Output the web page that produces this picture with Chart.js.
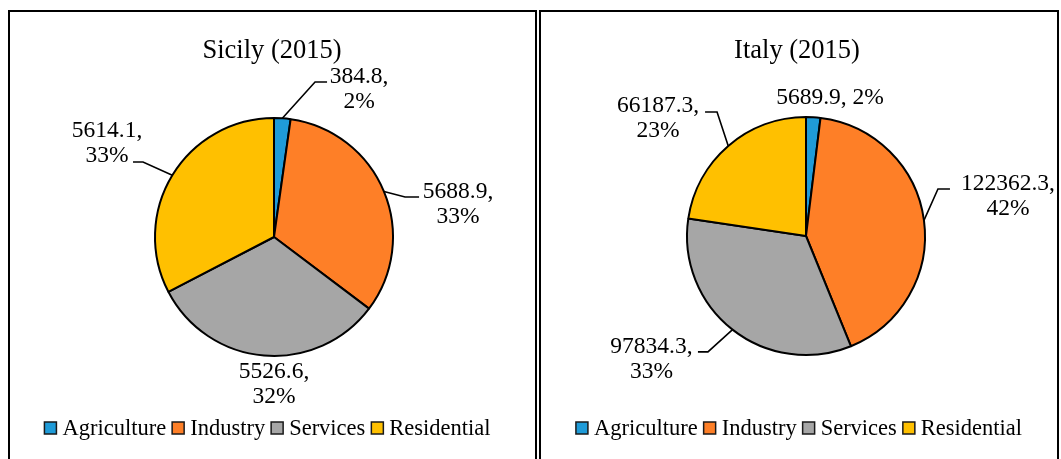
<!DOCTYPE html>
<html><head><meta charset="utf-8">
<script src="https://cdn.jsdelivr.net/npm/chart.js@4.4.0/dist/chart.umd.min.js"></script>
<style>
html,body{margin:0;padding:0;background:#fff;overflow:hidden;width:1061px;height:459px;}
canvas{position:absolute;left:0;top:0;}
.panel{position:absolute;top:10px;height:470px;border:2px solid #000;box-sizing:border-box;pointer-events:none;z-index:5;}
</style></head><body>
<div class="panel" style="left:8px;width:529px"></div>
<div class="panel" style="left:539px;width:520px"></div>
<canvas id="c1" width="1061" height="459"></canvas>
<canvas id="c2" width="1061" height="459"></canvas>
<script>
// ---- data ----
const categories = ['Agriculture', 'Industry', 'Services', 'Residential'];
const sicilyValues = [384.8, 5688.9, 5526.6, 5614.1];
const italyValues = [5689.9, 122362.3, 97834.3, 66187.3];
const chartTitles = ['Sicily (2015)', 'Italy (2015)'];

// ---- style ----
const sliceColors = ['#1F9BD8', '#FE7F27', '#A6A6A6', '#FFC000'];
const FONT = '"Liberation Serif", "Times New Roman", serif';

// label placement relative to slice mid-point on circumference (annotation layout only)
const sicilyLabelLayout = [
  {dx: 76.7, dy: -35.3, leader: [[-44, -1], [-32, -1]]},
  {dx: 74.1, dy: 6.5, leader: [[-53, -1], [-39, -1]]},
  {dx: 10, dy: 22.4},
  {dx: -65.3, dy: -38.2, leader: [[36, 25], [26, 25]]}
];
const italyLabelLayout = [
  {dx: 16.7, dy: -13.2, oneLine: true},
  {dx: 84, dy: -30.3, leader: [[-70, -1], [-58, -1]]},
  {dx: -81.1, dy: 23.3, leader: [[56.5, -1], [46.5, -1]]},
  {dx: -70.2, dy: -33.9, leader: [[59, 0], [47, 0]]}
];

function makeAnnotator(cfg) {
  return {
    id: 'annotate_' + cfg.key,
    afterDatasetsDraw(chart) {
      const ctx = chart.ctx;
      const meta = chart.getDatasetMeta(0);
      const data = chart.data.datasets[0].data;
      const total = data.reduce((a, b) => a + b, 0);
      ctx.save();
      ctx.fillStyle = '#000';
      ctx.strokeStyle = '#000';
      ctx.textAlign = 'center';
      ctx.textBaseline = 'alphabetic';
      // data labels
      meta.data.forEach((arc, i) => {
        const p = arc.getProps(['x', 'y', 'startAngle', 'endAngle', 'outerRadius'], true);
        const mid = (p.startAngle + p.endAngle) / 2;
        const mx = p.x + Math.cos(mid) * p.outerRadius;
        const my = p.y + Math.sin(mid) * p.outerRadius;
        const L = cfg.labels[i];
        const ax = mx + L.dx, ay = my + L.dy;
        const val = data[i].toFixed(1);
        const pct = Math.round(data[i] / total * 100) + '%';
        const lines = L.oneLine ? [val + ', ' + pct] : [val + ',', pct];
        if (L.leader) {
          ctx.beginPath();
          ctx.lineWidth = 1.6;
          ctx.moveTo(mx, my);
          L.leader.forEach(([x, y]) => ctx.lineTo(ax + x, ay + y));
          ctx.stroke();
        }
        ctx.font = '23.5px ' + FONT;
        lines.forEach((t, k) => ctx.fillText(t, ax, ay + k * 25));
      });
      // title
      ctx.font = '26.5px ' + FONT;
      ctx.fillText(cfg.title, cfg.titleX, 58);
      // legend
      ctx.font = '22.5px ' + FONT;
      const box = 12, gapBT = 6, gapItem = 6;
      const labels = chart.data.labels;
      const widths = labels.map(t => ctx.measureText(t).width);
      const totalW = widths.reduce((a, w) => a + box + gapBT + w, 0) + gapItem * (labels.length - 1);
      let x = cfg.legendX - totalW / 2;
      ctx.textAlign = 'left';
      labels.forEach((t, i) => {
        ctx.fillStyle = sliceColors[i];
        ctx.fillRect(x, 422, box, box);
        ctx.lineWidth = 1.5;
        ctx.strokeStyle = '#1a1a1a';
        ctx.strokeRect(x, 422, box, box);
        ctx.fillStyle = '#000';
        ctx.fillText(t, x + box + gapBT, 435);
        x += box + gapBT + widths[i] + gapItem;
      });
      ctx.restore();
    }
  };
}

function makePie(id, values, cfg, padding) {
  return new Chart(document.getElementById(id), {
    type: 'pie',
    data: {
      labels: categories,
      datasets: [{
        data: values,
        backgroundColor: sliceColors,
        borderColor: '#000',
        borderWidth: 2,
        radius: 119
      }]
    },
    options: {
      responsive: false,
      animation: false,
      events: [],
      layout: {padding: padding},
      plugins: {legend: {display: false}, title: {display: false}, tooltip: {enabled: false}}
    },
    plugins: [makeAnnotator(cfg)]
  });
}

makePie('c1', sicilyValues,
  {key: 's', title: chartTitles[0], titleX: 272, legendX: 267.5, labels: sicilyLabelLayout},
  {left: 0, right: 513, top: 15, bottom: 0});
makePie('c2', italyValues,
  {key: 'i', title: chartTitles[1], titleX: 797, legendX: 799, labels: italyLabelLayout},
  {left: 551, right: 0, top: 13, bottom: 0});
</script>
</body></html>
